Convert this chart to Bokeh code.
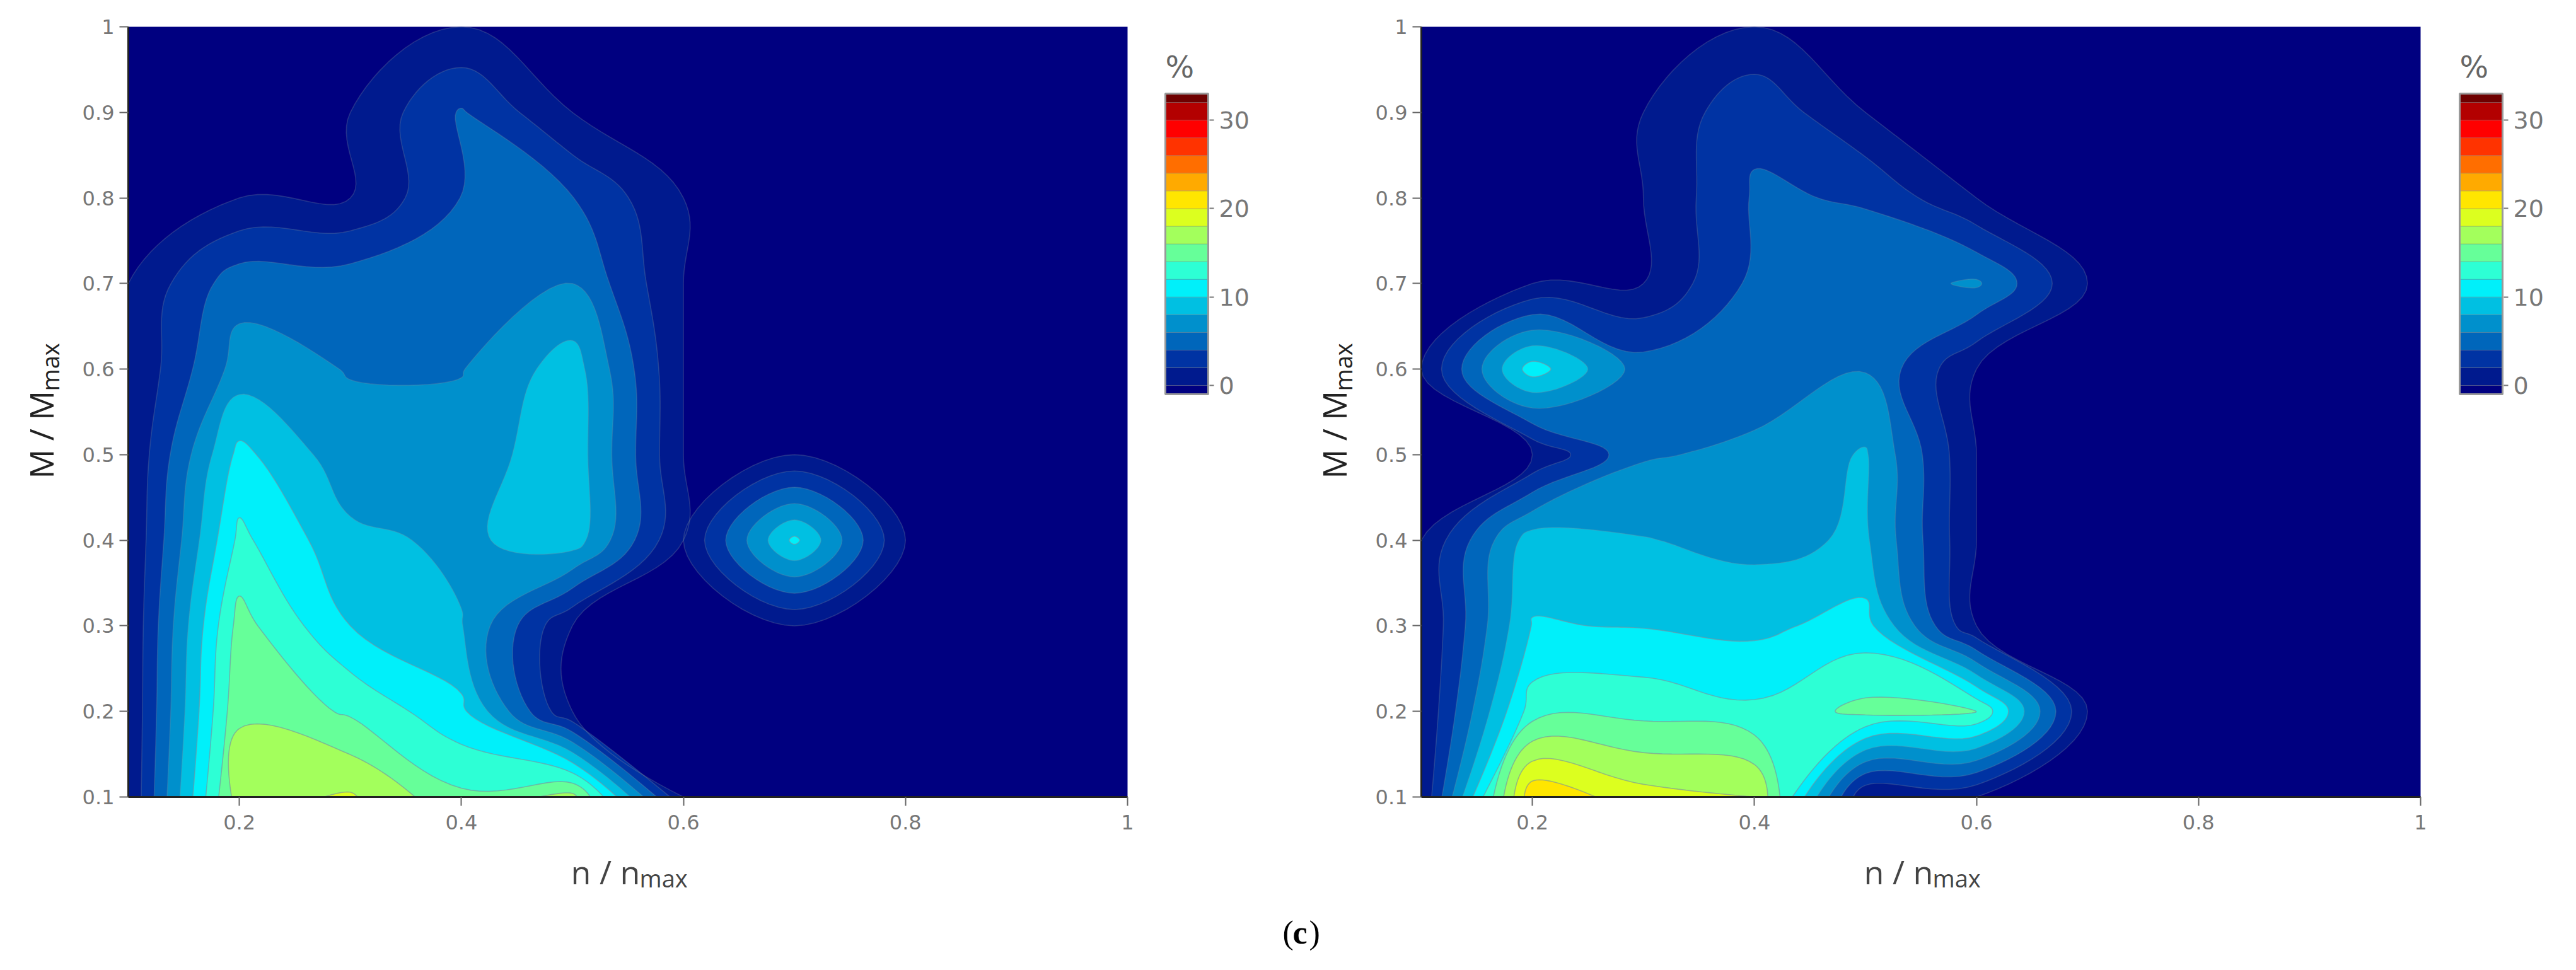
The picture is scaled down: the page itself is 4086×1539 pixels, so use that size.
import numpy as np
from contourpy import contour_generator, FillType
from bokeh.embed import file_html
from bokeh.layouts import column, row
from bokeh.models import ColumnDataSource, FixedTicker, Label, Range1d
from bokeh.plotting import figure
from bokeh.resources import INLINE

grid_x = [0.1, 0.2, 0.3, 0.4, 0.5, 0.6, 0.7, 0.8, 0.9, 1.0]
grid_y = [0.1, 0.2, 0.3, 0.4, 0.5, 0.6, 0.7, 0.8, 0.9, 1.0]

# rows run from M/Mmax = 0.1 (first) to 1.0 (last); values in %
left_z = [
    [0, 17.2, 18.25, 14.4, 16.7, 0, 0, 0, 0, 0],
    [0, 15.7, 13.7, 10.5, 0, 0, 0, 0, 0, 0],
    [0, 14.8, 10.0, 8.1, 0, 0, 0, 0, 0, 0],
    [0, 12.5, 8.5, 7.6, 9.1, 0, 10.5, 0, 0, 0],
    [0, 10.6, 6.7, 6.9, 9.3, 0, 0, 0, 0, 0],
    [0, 6.9, 5.9, 5.9, 9.0, 0, 0, 0, 0, 0],
    [0, 5.2, 5.2, 5.2, 6.0, 0, 0, 0, 0, 0],
    [0, 0, 0, 4.05, 4.05, 0, 0, 0, 0, 0],
    [0, 0, 0, 4.2, 0, 0, 0, 0, 0, 0],
    [0, 0, 0, 0, 0, 0, 0, 0, 0, 0],
]
right_z = [
    [0, 21.6, 18.8, 18.2, 0, 0, 0, 0, 0, 0],
    [0, 13.0, 13.4, 12.4, 14.6, 14.05, 0, 0, 0, 0],
    [0, 10.1, 9.9, 9.5, 10.8, 0, 0, 0, 0, 0],
    [0, 9.1, 8.1, 7.4, 8.3, 0, 0, 0, 0, 0],
    [0, 0, 5.8, 6.4, 8.2, 0, 0, 0, 0, 0],
    [0, 11.0, 5.0, 5.0, 5.9, 0, 0, 0, 0, 0],
    [0, 0, 0, 4.5, 5.0, 6.3, 0, 0, 0, 0],
    [0, 0, 0, 4.2, 3.85, 0, 0, 0, 0, 0],
    [0, 0, 0, 3.6, 0, 0, 0, 0, 0, 0],
    [0, 0, 0, 0, 0, 0, 0, 0, 0, 0],
]

levels = [0, 2, 4, 6, 8, 10, 12, 14, 16, 18, 20, 22, 24, 26, 28, 30, 32]
base_color = "#000080"
band_colors = ["#001a8e", "#0033a3", "#0066bb", "#0090cc", "#00c0e2", "#00f0fa",
               "#2dffd5", "#66ff99", "#a3ff5c", "#dcff1f", "#ffe600", "#ffaa00",
               "#ff6e00", "#ff3300", "#ff0000", "#b30000", "#6e0000"]
bar_low, bar_high = -1, 33
bar_ticks = [0, 10, 20, 30]
x_ticks = [0.2, 0.4, 0.6, 0.8, 1.0]
y_ticks = [0.1, 0.2, 0.3, 0.4, 0.5, 0.6, 0.7, 0.8, 0.9, 1.0]

FRAME_W, FRAME_H = 1585, 1222
TOP, FIG_H = 42, 1340
BOTTOM = FIG_H - TOP - FRAME_H
SX = FRAME_W / (grid_x[-1] - grid_x[0])
SY = FRAME_H / (grid_y[-1] - grid_y[0])
XMIN, XMAX, YMIN, YMAX = grid_x[0], grid_x[-1], grid_y[0], grid_y[-1]
SMOOTH = 1.2
MERGE_PX = 7


def to_px(p):
    return np.array([p[0] * SX, p[1] * SY])


def tangent(a, b, c, s=SMOOTH):
    d1 = to_px(a) - to_px(b)
    d2 = to_px(c) - to_px(b)
    a1 = np.hypot(*d1) ** 0.5
    a2 = np.hypot(*d2) ** 0.5
    num = (a2 * a2 * d1 - a1 * a1 * d2) * s
    den1 = 3 * a2 * (a1 + a2)
    den2 = 3 * a1 * (a1 + a2)
    t1 = num / den1 if den1 else np.zeros(2)
    t2 = num / den2 if den2 else np.zeros(2)
    bp = to_px(b)
    return bp + t1, bp - t2


def sample_cubic(p0, c0, c1, p1, n=14):
    t = np.linspace(0, 1, n + 1)[1:, None]
    return (1 - t) ** 3 * p0 + 3 * (1 - t) ** 2 * t * c0 + 3 * (1 - t) * t ** 2 * c1 + t ** 3 * p1


def sample_quad(p0, c, p1, n=14):
    t = np.linspace(0, 1, n + 1)[1:, None]
    return (1 - t) ** 2 * p0 + 2 * (1 - t) * t * c + t ** 2 * p1


def back(arr):
    return np.column_stack([arr[:, 0] / SX, arr[:, 1] / SY])


def dedupe(pts, closed=False):
    out = [pts[0]]
    for q in pts[1:]:
        if np.hypot(*(to_px(q) - to_px(out[-1]))) > MERGE_PX:
            out.append(q)
    if len(pts) > 1 and len(out) > 1 and np.hypot(*(to_px(pts[-1]) - to_px(out[-1]))) <= MERGE_PX:
        out[-1] = pts[-1]
    elif len(pts) > 1 and len(out) == 1:
        out.append(pts[-1])
    if closed and len(out) > 2 and np.hypot(*(to_px(out[0]) - to_px(out[-1]))) <= MERGE_PX:
        out.pop()
    return out


def smooth_open(pts):
    pts = dedupe(pts)
    if len(pts) < 3:
        return np.array(pts)
    tans = [tangent(pts[i - 1], pts[i], pts[i + 1]) for i in range(1, len(pts) - 1)]
    px = [to_px(q) for q in pts]
    seq = [px[0][None, :], sample_quad(px[0], tans[0][0], px[1])]
    for i in range(2, len(pts) - 1):
        seq.append(sample_cubic(px[i - 1], tans[i - 2][1], tans[i - 1][0], px[i]))
    seq.append(sample_quad(px[-2], tans[-1][1], px[-1]))
    return back(np.vstack(seq))


def smooth_closed(pts):
    pts = dedupe(pts, closed=True)
    n = len(pts)
    if n < 3:
        return np.array(pts)
    tans = [tangent(pts[i - 1], pts[i], pts[(i + 1) % n]) for i in range(n)]
    px = [to_px(q) for q in pts]
    seq = []
    for i in range(n):
        j = (i + 1) % n
        seq.append(sample_cubic(px[i], tans[i][1], tans[j][0], px[j]))
    return back(np.vstack(seq))


def edge_set(q):
    s = set()
    if abs(q[0] - XMIN) < 1e-9: s.add("l")
    if abs(q[0] - XMAX) < 1e-9: s.add("r")
    if abs(q[1] - YMIN) < 1e-9: s.add("b")
    if abs(q[1] - YMAX) < 1e-9: s.add("t")
    return s


def smooth_ring(ring):
    """returns the smoothed ring and its contour runs (without the domain edges)"""
    pts = [np.array(q, dtype=float) for q in ring[:-1]]
    flags = [edge_set(q) for q in pts]
    if not any(flags):
        s = smooth_closed(pts)
        s = np.vstack([s, s[:1]]) if len(s) else s
        return s, [s]
    start = next(i for i, f in enumerate(flags) if f)
    pts = pts[start:] + pts[:start] + [pts[start]]
    flags = flags[start:] + flags[:start] + [flags[start]]
    out, runs, cur = [pts[0][None, :]], [], [pts[0]]
    for i in range(1, len(pts)):
        if flags[i - 1] & flags[i]:
            if len(cur) > 1:
                s = smooth_open(cur)
                runs.append(s)
                out.append(s)
            out.append(pts[i][None, :])
            cur = [pts[i]]
        else:
            cur.append(pts[i])
    if len(cur) > 1:
        s = smooth_open(cur)
        runs.append(s)
        out.append(s)
    return np.vstack(out), runs


def draw_contours(fig, z):
    z = np.array(z, dtype=float)
    gen = contour_generator(np.array(grid_x), np.array(grid_y), z, fill_type=FillType.OuterOffset)
    line_xs, line_ys, line_alpha = [], [], []
    for lv, col in zip(levels, band_colors):
        low = lv if lv > 0 else 0.001
        if z.max() <= low:
            continue
        points, offsets = gen.filled(low, 1e6)
        xs, ys = [], []
        for pp, off in zip(points, offsets):
            rx, ry = [], []
            for a, b in zip(off[:-1], off[1:]):
                ring, runs = smooth_ring(pp[a:b])
                rx.append(ring[:, 0].tolist())
                ry.append(ring[:, 1].tolist())
                for r in runs:
                    line_xs.append(r[:, 0].tolist())
                    line_ys.append(r[:, 1].tolist())
                    line_alpha.append(0.28 if lv < 10 else 0.6)
            xs.append([rx])
            ys.append([ry])
        fig.multi_polygons(xs=xs, ys=ys, fill_color=col, line_color=None)
    src = ColumnDataSource(dict(xs=line_xs, ys=line_ys, a=line_alpha))
    fig.multi_line(xs="xs", ys="ys", line_color="#7c8f9f", line_alpha="a", line_width=1.6, source=src)


def panel(z, border_left):
    total_w = border_left + FRAME_W + 12
    p = figure(width=total_w, height=FIG_H, output_backend="svg", toolbar_location=None,
               x_range=Range1d(XMIN, XMAX), y_range=Range1d(YMIN, YMAX),
               min_border_left=border_left, min_border_right=12,
               min_border_top=TOP, min_border_bottom=BOTTOM,
               background_fill_color=base_color, outline_line_color=None)
    p.grid.visible = False
    for ax, ticks in ((p.xaxis[0], x_ticks), (p.yaxis[0], y_ticks)):
        ax.ticker = FixedTicker(ticks=ticks)
        ax.major_label_overrides = {t: ("1" if t == 1.0 else f"{t:.1f}") for t in ticks}
        ax.minor_tick_line_color = None
        ax.major_tick_in = 0
        ax.major_tick_out = 14
        ax.major_tick_line_color = "#666666"
        ax.major_tick_line_width = 2
        ax.axis_line_color = "#222222"
        ax.axis_line_width = 3
        ax.major_label_text_color = "#777777"
        ax.major_label_text_font = "DejaVu Sans"
        ax.major_label_text_font_size = "32px"
    p.xaxis[0].major_label_standoff = 14
    p.yaxis[0].major_label_standoff = 8
    draw_contours(p, z)
    return p


def y_title(total_w, baseline_x):
    # a frame that holds only the rotated axis title
    t = figure(width=total_w, height=FIG_H, output_backend="svg", toolbar_location=None,
               x_axis_type=None, y_axis_type=None, outline_line_color=None,
               x_range=Range1d(0, 1), y_range=Range1d(0, 1),
               min_border_left=0, min_border_right=0, min_border_top=TOP, min_border_bottom=BOTTOM)
    t.grid.visible = False
    for txt, x, y, size in [("M / M", baseline_x, 505, "52px"), ("max", baseline_x + 14, 644, "38px")]:
        t.add_layout(Label(x=x, y=y, x_units="screen", y_units="screen", text=txt,
                           text_font="Open Sans", text_font_size=size, text_color="#222222",
                           angle=np.pi / 2, text_baseline="alphabetic"))
    return t


def colorbar(total_w, frame_left):
    bar_px = 477 / (bar_high - bar_low)
    inset = 2
    c = figure(width=total_w, height=FIG_H, output_backend="svg", toolbar_location=None,
               x_range=Range1d(-inset / 68, 1 + inset / 68),
               y_range=Range1d(bar_low - (1264 - 625) / bar_px, bar_high + (148 - TOP) / bar_px),
               min_border_left=frame_left - inset, min_border_right=total_w - frame_left - 68 - inset,
               min_border_top=TOP, min_border_bottom=BOTTOM,
               x_axis_type=None, y_axis_location="right", outline_line_color=None)
    c.grid.visible = False
    edges = [bar_low] + levels + [bar_high]
    colors = [base_color] + band_colors
    src = ColumnDataSource(dict(bottom=edges[:-1], top=edges[1:], color=colors,
                                left=[0] * len(colors), right=[1] * len(colors)))
    c.quad(left="left", right="right", bottom="bottom", top="top", fill_color="color",
           line_color="#777777", line_alpha=0.35, line_width=1, source=src)
    c.quad(left=[0], right=[1], bottom=[bar_low], top=[bar_high], fill_color=None,
           line_color="#999999", line_width=3)
    ax = c.yaxis[0]
    ax.ticker = FixedTicker(ticks=bar_ticks)
    ax.minor_tick_line_color = None
    ax.axis_line_color = None
    ax.major_tick_in = 0
    ax.major_tick_out = 7
    ax.major_tick_line_color = "#777777"
    ax.major_tick_line_width = 2
    ax.major_label_standoff = 8
    ax.major_label_text_color = "#777777"
    ax.major_label_text_font = "DejaVu Sans"
    ax.major_label_text_font_size = "38px"
    c.add_layout(Label(x=inset, y=1264 - 105, x_units="screen", y_units="screen", text="%",
                       text_font="DejaVu Sans", text_font_size="48px", text_color="#666666",
                       text_baseline="alphabetic"))
    return c


t1 = y_title(120, 64)
p1 = panel(left_z, 83)
c1 = colorbar(246, 48)
t2 = y_title(125, 69)
p2 = panel(right_z, 83)
c2 = colorbar(227, 50)

cap = figure(width=4078, height=185, output_backend="svg", toolbar_location=None,
             x_axis_type=None, y_axis_type=None, outline_line_color=None,
             x_range=Range1d(0, 1), y_range=Range1d(0, 1),
             min_border=0)
cap.grid.visible = False
caption_parts = [("(", "normal", 2034), ("c", "bold", 2050), (")", "normal", 2076)]
for txt, style, px in caption_parts:
    cap.add_layout(Label(x=px, y=46, x_units="screen", y_units="screen", text=txt,
                         text_font="Liberation Serif", text_font_size="52px",
                         text_font_style=style, text_color="#000000",
                         text_baseline="alphabetic"))
for panel_shift in (0, 2051):
    for txt, x, y, size in [("n / n", 905, 143, "52px"), ("max", 1014, 133, "38px")]:
        cap.add_layout(Label(x=x + panel_shift, y=y, x_units="screen", y_units="screen", text=txt,
                             text_font="Open Sans", text_font_size=size, text_color="#444444",
                             text_baseline="alphabetic"))

layout = column(row(t1, p1, c1, t2, p2, c2, spacing=0), cap, spacing=0)
open("out.html", "w").write(file_html(layout, INLINE))
